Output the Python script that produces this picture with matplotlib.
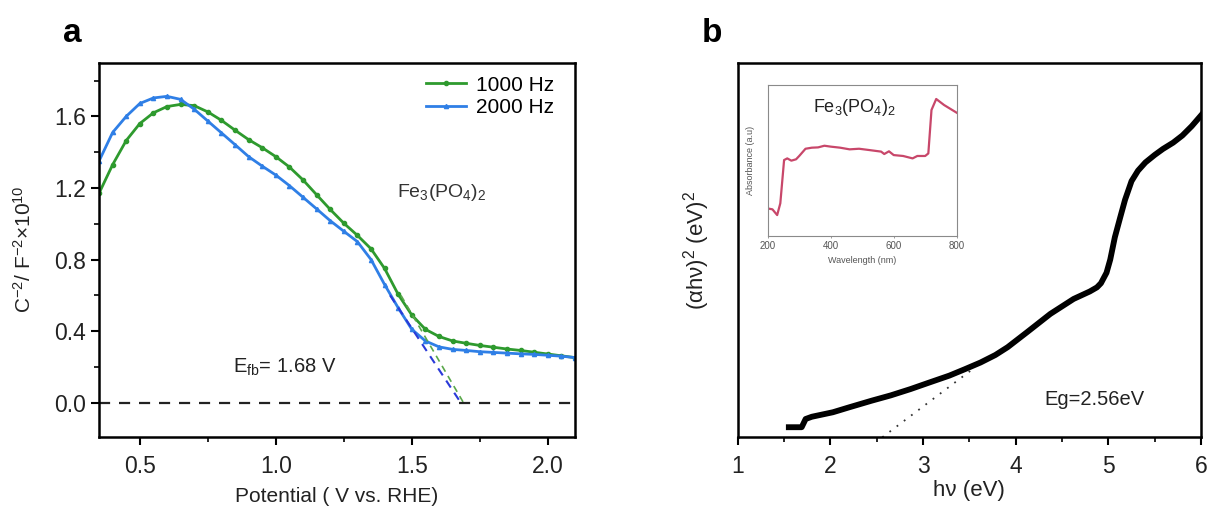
import numpy as np
import matplotlib
matplotlib.use("Agg")
import matplotlib.pyplot as plt
from matplotlib.ticker import MultipleLocator, NullLocator

plt.rcParams['font.family'] = ['Liberation Sans', 'DejaVu Sans']
plt.rcParams['mathtext.default'] = 'regular'

# ---------- Panel a data (Mott-Schottky) ----------
potential = [0.35, 0.40, 0.45, 0.50, 0.55, 0.60, 0.65, 0.70, 0.75, 0.80, 0.85, 0.90,
             0.95, 1.00, 1.05, 1.10, 1.15, 1.20, 1.25, 1.30, 1.35, 1.40, 1.45, 1.50,
             1.55, 1.60, 1.65, 1.70, 1.75, 1.80, 1.85, 1.90, 1.95, 2.00, 2.05, 2.10]
c2_1000 = [1.17, 1.33, 1.465, 1.56, 1.62, 1.655, 1.667, 1.66, 1.625, 1.578, 1.523, 1.47,
           1.425, 1.375, 1.317, 1.245, 1.162, 1.08, 1.003, 0.935, 0.86, 0.75, 0.605, 0.49,
           0.41, 0.37, 0.345, 0.332, 0.32, 0.31, 0.30, 0.292, 0.282, 0.272, 0.262, 0.252]
c2_2000 = [1.35, 1.51, 1.60, 1.672, 1.703, 1.712, 1.695, 1.64, 1.574, 1.508, 1.442, 1.375,
           1.322, 1.272, 1.213, 1.148, 1.083, 1.017, 0.958, 0.90, 0.80, 0.66, 0.53, 0.41,
           0.345, 0.312, 0.298, 0.292, 0.285, 0.281, 0.277, 0.273, 0.27, 0.265, 0.26, 0.252]
fit_2000_x = [1.42, 1.68]
fit_2000_y = [0.60, 0.0]
fit_1000_x = [1.46, 1.69]
fit_1000_y = [0.60, 0.0]
labels_a = ['1000 Hz', '2000 Hz']

# ---------- Panel b data (Tauc plot) ----------
hv = [1.52, 1.60, 1.69, 1.733, 1.80, 2.027, 2.20, 2.446, 2.65, 2.865, 3.05, 3.284, 3.45,
      3.62, 3.78, 3.913, 4.122, 4.374, 4.625, 4.80, 4.877, 4.92, 4.98, 5.02, 5.07, 5.13,
      5.18, 5.25, 5.32, 5.40, 5.50, 5.589, 5.70, 5.799, 5.90, 6.05]
tauc = [0.027, 0.027, 0.027, 0.049, 0.055, 0.067, 0.080, 0.098, 0.112, 0.129, 0.145, 0.165, 0.182,
        0.200, 0.220, 0.241, 0.281, 0.330, 0.370, 0.390, 0.401, 0.412, 0.440, 0.475, 0.535, 0.590,
        0.635, 0.685, 0.713, 0.735, 0.755, 0.771, 0.788, 0.807, 0.832, 0.875]
tangent_x = [2.56, 3.56]
tangent_y = [0.0, 0.187]

# ---------- Inset data (absorbance) ----------
wavelength = [200, 215, 230, 240, 252, 262, 275, 290, 300, 320, 340, 360, 380, 400, 430,
              460, 490, 520, 560, 570, 585, 600, 630, 660, 675, 700, 710, 720, 735, 760, 800]
absorb = [0.181, 0.175, 0.137, 0.215, 0.502, 0.513, 0.498, 0.507, 0.529, 0.577, 0.584, 0.586,
          0.597, 0.591, 0.584, 0.573, 0.577, 0.569, 0.558, 0.542, 0.560, 0.535, 0.529, 0.513,
          0.529, 0.529, 0.546, 0.834, 0.907, 0.867, 0.816]

green = '#2e9a2e'
blue = '#2f7fe6'

fig = plt.figure(figsize=(12.09, 5.11), dpi=100)

# ================= Panel a =================
axa = fig.add_axes([0.0819, 0.1454, 0.3937, 0.7319])
axa.plot(potential, c2_1000, color=green, lw=2, marker='o', ms=3, label=labels_a[0])
axa.plot(potential, c2_2000, color=blue, lw=2, marker='^', ms=3, label=labels_a[1])
axa.plot(fit_2000_x, fit_2000_y, color='#2a3ad8', lw=1.5, ls=(0, (4, 3)))
axa.plot(fit_1000_x, fit_1000_y, color='#5aa84a', lw=1.2, ls=(0, (4, 3)))
axa.axhline(0, color='#222222', lw=1.6, ls=(0, (5, 4)))
axa.set_xlim(0.35, 2.1)
axa.set_ylim(-0.19, 1.9)
axa.xaxis.set_major_locator(MultipleLocator(0.5))
axa.xaxis.set_minor_locator(MultipleLocator(0.25))
axa.yaxis.set_major_locator(MultipleLocator(0.4))
axa.yaxis.set_minor_locator(MultipleLocator(0.2))
axa.tick_params(which='major', direction='out', length=6, width=1.5, labelsize=16.5,
                colors='black', labelcolor='#222222')
axa.tick_params(which='minor', direction='out', length=3.5, width=1.2)
axa.tick_params(axis='x', pad=7)
for s in axa.spines.values():
    s.set_linewidth(1.8)
axa.set_xlabel('Potential ( V vs. RHE)', fontsize=15, color='#222222')
axa.set_ylabel('C$^{-2}$/ F$^{-2}$×10$^{10}$', fontsize=15, color='#222222')
axa.xaxis.set_label_coords(0.5, -0.135)
axa.yaxis.set_label_coords(-0.135, 0.5)
leg = axa.legend(loc='upper left', bbox_to_anchor=(0.688, 0.965), frameon=False,
                 fontsize=15, handlelength=1.9, handletextpad=0.5, labelspacing=0.15,
                 borderaxespad=0, borderpad=0)
axa.text(1.444, 1.173, 'Fe$_3$(PO$_4$)$_2$', fontsize=14, color='#333333', va='center', ha='left')
axa.text(0.842, 0.2, 'E$_{fb}$= 1.68 V', fontsize=14.5, color='#222222', va='center', ha='left')

# ================= Panel b =================
axb = fig.add_axes([0.6102, 0.1442, 0.3832, 0.7319])
axb.plot(hv, tauc, color='black', lw=4.2, solid_capstyle='butt', solid_joinstyle='round')
axb.plot(tangent_x, tangent_y, color='#333333', lw=1.3, ls=(0, (1, 4)))
axb.set_xlim(1, 6)
axb.set_ylim(0, 1)
axb.xaxis.set_major_locator(MultipleLocator(1))
axb.xaxis.set_minor_locator(MultipleLocator(0.5))
axb.yaxis.set_major_locator(NullLocator())
axb.yaxis.set_minor_locator(NullLocator())
axb.tick_params(which='major', direction='out', length=6, width=1.5, labelsize=16.5,
                labelcolor='#222222')
axb.tick_params(which='minor', direction='out', length=3.5, width=1.2)
axb.tick_params(axis='x', pad=7)
for s in axb.spines.values():
    s.set_linewidth(1.8)
axb.set_xlabel('hν (eV)', fontsize=16, color='#222222')
axb.set_ylabel('(αhν)$^2$ (eV)$^2$', fontsize=16, color='#222222')
axb.xaxis.set_label_coords(0.5, -0.115)
axb.yaxis.set_label_coords(-0.055, 0.5)
axb.text(4.31, 0.1, 'Eg=2.56eV', fontsize=14.5, color='#222222', va='center', ha='left')

# ================= Inset =================
axi = fig.add_axes([0.635, 0.5387, 0.1563, 0.295])
axi.plot(wavelength, absorb, color='#c8476a', lw=1.6)
axi.set_xlim(200, 800)
axi.set_ylim(0, 1)
axi.set_xticks([200, 400, 600, 800])
axi.yaxis.set_major_locator(NullLocator())
axi.tick_params(axis='x', length=1.5, width=0.6, colors='#888888', labelsize=7,
                labelcolor='#555555', pad=2)
for s in axi.spines.values():
    s.set_linewidth(0.8)
    s.set_color('#8a8a8a')
axi.set_xlabel('Wavelength (nm)', fontsize=6.5, color='#555555', labelpad=4)
axi.set_ylabel('Absorbance (a.u)', fontsize=6.5, color='#555555', labelpad=9)
axi.text(0.46, 0.85, 'Fe$_3$(PO$_4$)$_2$', transform=axi.transAxes, fontsize=13,
         color='#222222', ha='center', va='center')

# Panel labels
fig.text(0.0595, 0.935, 'a', fontsize=24, fontweight='bold', ha='center', va='center')
fig.text(0.5885, 0.935, 'b', fontsize=24, fontweight='bold', ha='center', va='center')

fig.savefig('out.png', dpi=100)
